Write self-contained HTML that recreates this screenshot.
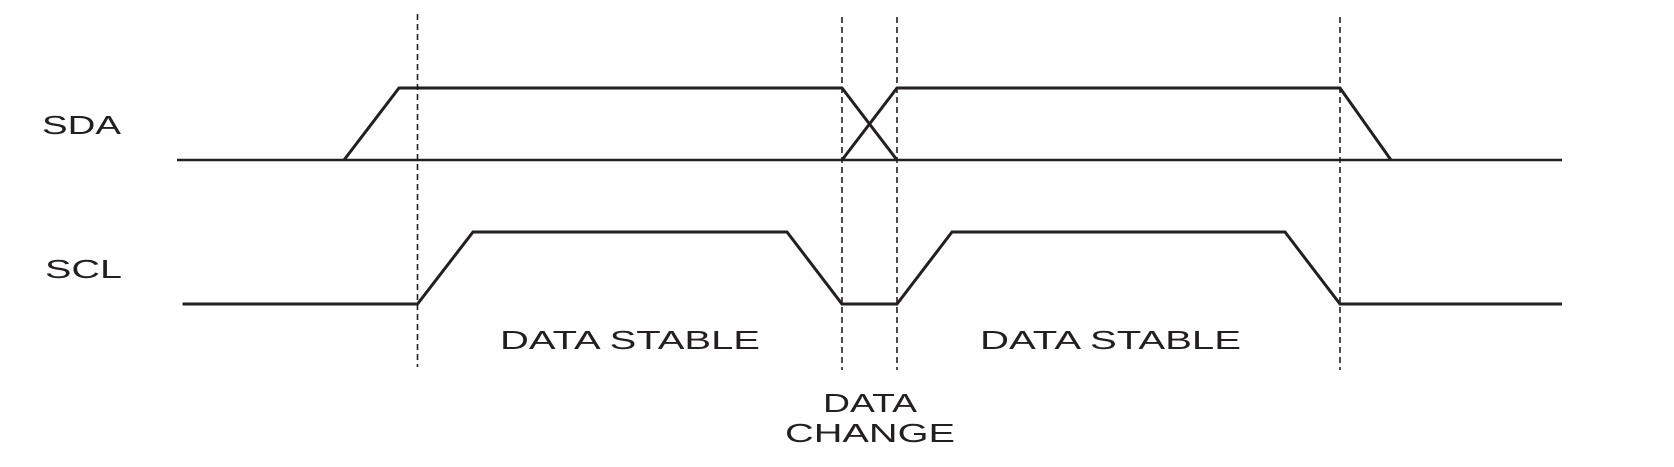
<!DOCTYPE html>
<html><head><style>html,body{margin:0;padding:0;background:#fff;}svg{display:block}</style></head>
<body>
<svg width="1674" height="467" viewBox="0 0 1674 467" xmlns="http://www.w3.org/2000/svg">
<g stroke="#231f20" stroke-width="1.6" stroke-dasharray="6,4" fill="none">
<line x1="417.5" y1="14" x2="417.5" y2="367"/>
<line x1="842" y1="17" x2="842" y2="370"/>
<line x1="897" y1="17" x2="897" y2="370"/>
<line x1="1340" y1="17" x2="1340" y2="370"/>
</g>
<g stroke="#231f20" stroke-width="3" fill="none" stroke-linejoin="miter">
<line x1="177" y1="160" x2="1562" y2="160" stroke-width="2.6"/>
<polyline points="344,160 399,88 842,88 897,160"/>
<polyline points="842,160 897,88 1340,88 1391,160"/>
<polyline points="182.6,304 417.5,304 473,232 787,232 842,304 897,304 952,232 1285,232 1340,304 1562,304"/>
</g>
<g font-family="Liberation Sans, sans-serif" font-size="26" fill="#231f20" lengthAdjust="spacingAndGlyphs">
<text x="42" y="134" textLength="79" lengthAdjust="spacingAndGlyphs">SDA</text>
<text x="45" y="278" textLength="77" lengthAdjust="spacingAndGlyphs">SCL</text>
<text x="500" y="349" textLength="260" lengthAdjust="spacingAndGlyphs">DATA STABLE</text>
<text x="980" y="349" textLength="261" lengthAdjust="spacingAndGlyphs">DATA STABLE</text>
<text x="823" y="412" textLength="94" lengthAdjust="spacingAndGlyphs">DATA</text>
<text x="785" y="442" textLength="170" lengthAdjust="spacingAndGlyphs">CHANGE</text>
</g>
</svg>
</body></html>
